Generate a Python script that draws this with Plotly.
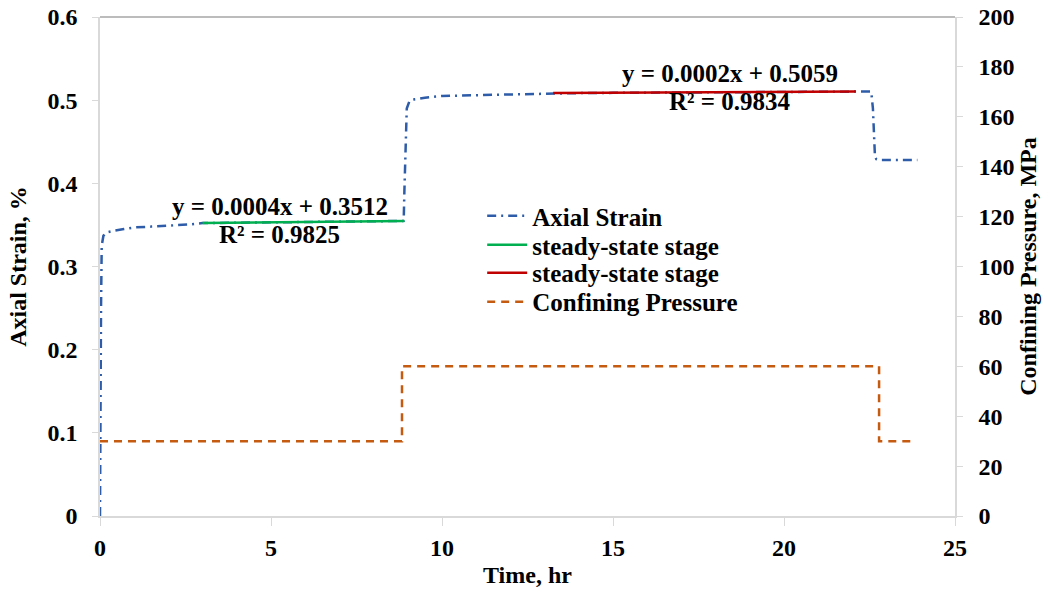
import plotly.graph_objects as go

# Axial strain (%) vs time (hr)
time_hr = [0, 0.01, 0.03, 0.05, 0.1, 0.2, 0.4, 0.7, 1.0, 1.5, 2.0, 2.6, 3.0, 4.0, 5.0, 6.0, 7.0, 8.0, 8.85,
           8.88, 8.9, 8.93, 8.97, 9.05, 9.2, 9.5, 10.0, 11.0, 12.0, 13.2, 14.0, 15.0, 16.0, 17.0, 18.0,
           19.0, 20.0, 21.0, 22.0, 22.55, 22.6, 22.63, 22.66, 22.7, 22.8, 23.0, 23.4, 23.9]
axial_strain = [0, 0.12, 0.25, 0.325, 0.337, 0.341, 0.343, 0.345, 0.347, 0.348, 0.349, 0.3505, 0.3522, 0.3528,
                0.3532, 0.3536, 0.354, 0.3544, 0.3548,
                0.355, 0.39, 0.45, 0.49, 0.499, 0.501, 0.503, 0.505, 0.506, 0.507, 0.5079, 0.5085, 0.5088,
                0.509, 0.5092, 0.5094, 0.5096, 0.5098, 0.51, 0.5102, 0.5104, 0.49, 0.45, 0.432, 0.429,
                0.428, 0.428, 0.428, 0.428]

# Steady-state fits
fit1_t = [3.0, 8.9]
fit1_y = [0.0004 * t + 0.3512 for t in fit1_t]
fit2_t = [13.25, 22.1]
fit2_y = [0.0002 * t + 0.5059 for t in fit2_t]

# Confining pressure (MPa)
cp_time = [0, 8.83, 8.83, 22.78, 22.78, 23.77]
cp_mpa = [30, 30, 60, 60, 30, 30]

# Tick labels
x_ticks = [0, 5, 10, 15, 20, 25]
y_ticks = [0, 0.1, 0.2, 0.3, 0.4, 0.5, 0.6]
y_ticklabels = ["0", "0.1", "0.2", "0.3", "0.4", "0.5", "0.6"]
y2_ticks = [0, 20, 40, 60, 80, 100, 120, 140, 160, 180, 200]

FONT = "Liberation Serif"
BLUE = "#2E5CA8"
GREEN = "#00B050"
RED = "#C00000"
ORANGE = "#C55A11"
AXIS = "#D9D9D9"
TICK_SIZE = 24
TITLE_SIZE = 24
LEG_SIZE = 25


def bold(labels):
    return [f"<b>{t}</b>" for t in labels]


fig = go.Figure()
fig.add_trace(go.Scatter(x=time_hr, y=axial_strain, mode="lines", name="<b>Axial Strain</b>", legend="legend",
                         line=dict(color=BLUE, width=2.5, dash="9px,5px,2px,5px")))
fig.add_trace(go.Scatter(x=fit1_t, y=fit1_y, mode="lines", name="<b>steady-state stage</b>", legend="legend2",
                         line=dict(color=GREEN, width=2.5)))
fig.add_trace(go.Scatter(x=fit2_t, y=fit2_y, mode="lines", name="<b>steady-state stage</b>", legend="legend3",
                         line=dict(color=RED, width=2.5)))
fig.add_trace(go.Scatter(x=cp_time, y=cp_mpa, mode="lines", name="<b>Confining Pressure</b>", yaxis="y2",
                         legend="legend4", line=dict(color=ORANGE, width=2.5, dash="8px,6px")))

leg_common = dict(x=0.447, xanchor="left", yanchor="middle",
                  font=dict(family=FONT, size=LEG_SIZE, color="black"),
                  bgcolor="rgba(0,0,0,0)", itemwidth=40)

fig.update_layout(
    width=1050, height=592,
    margin=dict(l=100, r=95, t=17, b=76),
    paper_bgcolor="white", plot_bgcolor="white",
    font=dict(family=FONT, color="black"),
    showlegend=True,
    legend=dict(y=0.601, **leg_common),
    legend2=dict(y=0.543, **leg_common),
    legend3=dict(y=0.487, **leg_common),
    legend4=dict(y=0.429, **leg_common),
    xaxis=dict(range=[0, 25], showgrid=False, zeroline=False, automargin=False,
               showline=True, linecolor=AXIS, linewidth=1.5,
               ticks="outside", ticklen=8, tickcolor=AXIS, ticklabelstandoff=1,
               tickvals=x_ticks, ticktext=bold([str(v) for v in x_ticks]),
               tickfont=dict(family=FONT, size=TICK_SIZE, color="black"),
               title=dict(text="<b>Time, hr</b>", font=dict(family=FONT, size=TITLE_SIZE), standoff=7)),
    yaxis=dict(range=[0, 0.6], showgrid=False, zeroline=False, automargin=False,
               showline=True, linecolor=AXIS, linewidth=1.5,
               ticks="outside", ticklen=6, tickcolor=AXIS, ticklabelstandoff=10,
               tickvals=y_ticks, ticktext=bold(y_ticklabels),
               tickfont=dict(family=FONT, size=TICK_SIZE, color="black"),
               title=dict(text="<b>Axial Strain, %</b>", font=dict(family=FONT, size=TITLE_SIZE), standoff=14)),
    yaxis2=dict(range=[0, 200], overlaying="y", side="right", showgrid=False, zeroline=False, automargin=False,
                showline=True, linecolor=AXIS, linewidth=1.5,
                ticks="outside", ticklen=6, tickcolor=AXIS, ticklabelstandoff=11,
                tickvals=y2_ticks, ticktext=bold([str(v) for v in y2_ticks]),
                tickfont=dict(family=FONT, size=TICK_SIZE, color="black"),
                title=dict(text="<b>Confining Pressure, MPa</b>", font=dict(family=FONT, size=TITLE_SIZE), standoff=4)),
)

# top border of plot area
fig.add_shape(type="line", xref="paper", yref="paper", x0=0, x1=1, y0=1, y1=1,
              line=dict(color="#A6A6A6", width=1.5))

ann_font = dict(family=FONT, size=25, color="black")
fig.add_annotation(x=5.25, y=0.372, text="<b>y = 0.0004x + 0.3512</b>", showarrow=False, font=ann_font)
fig.add_annotation(x=5.25, y=0.338, text="<b>R² = 0.9825</b>", showarrow=False, font=ann_font)
fig.add_annotation(x=18.42, y=0.532, text="<b>y = 0.0002x + 0.5059</b>", showarrow=False, font=ann_font)
fig.add_annotation(x=18.42, y=0.499, text="<b>R² = 0.9834</b>", showarrow=False, font=ann_font)

fig.write_html("out.html")
